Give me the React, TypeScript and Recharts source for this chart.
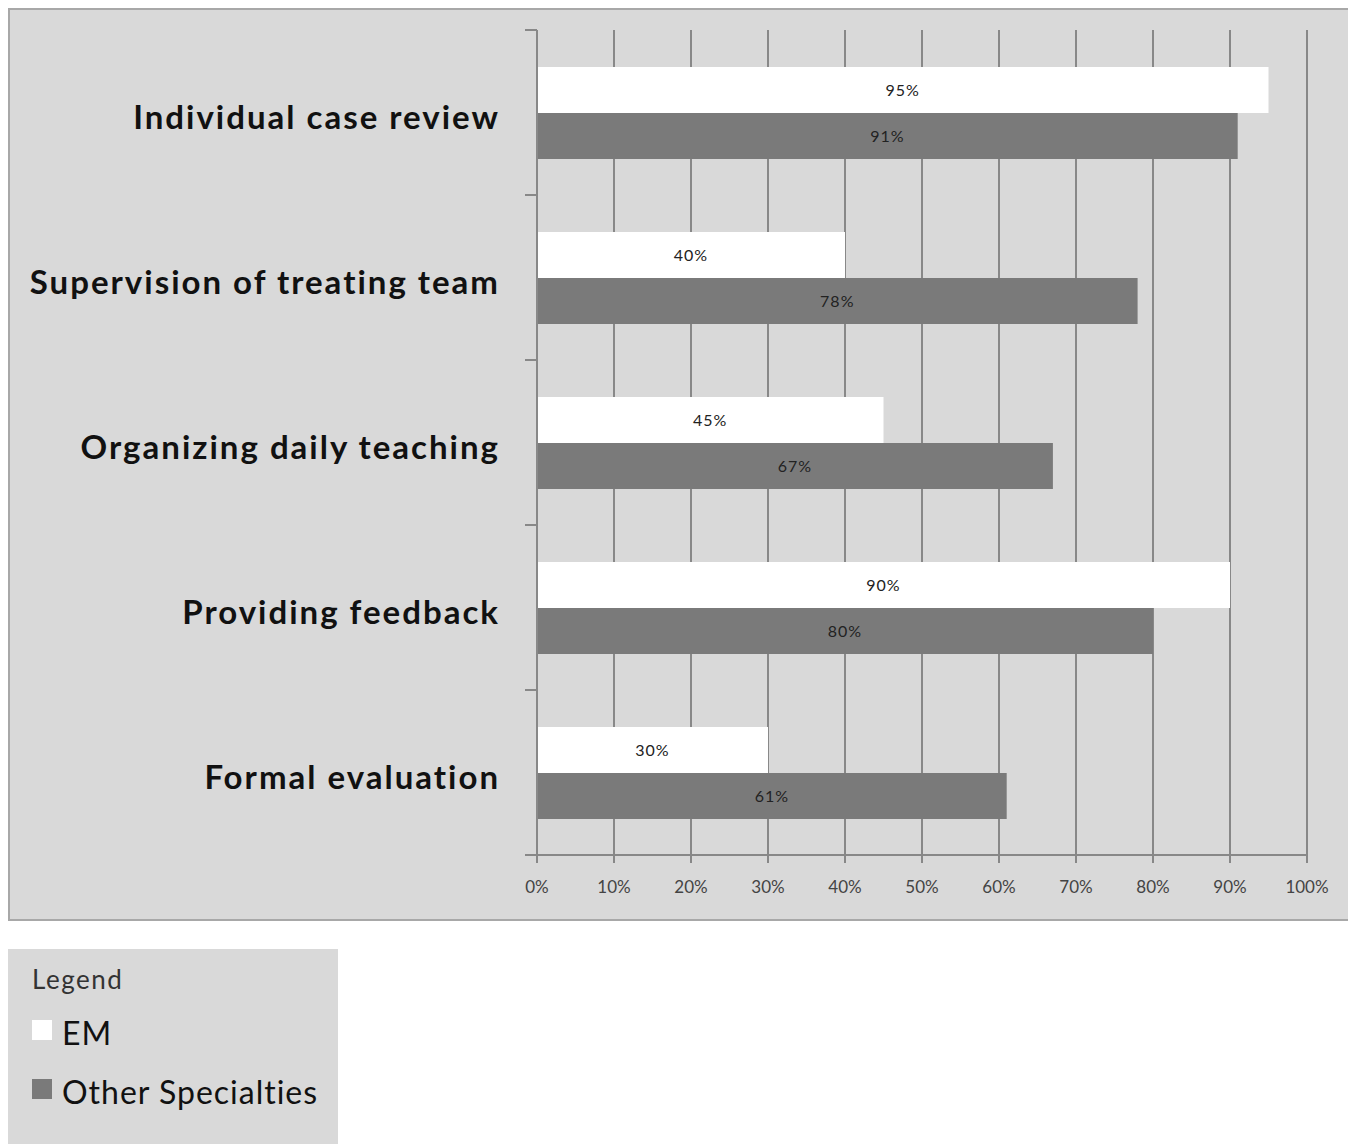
import { Bar, BarChart, CartesianGrid, LabelList, XAxis, YAxis } from 'recharts';

const categories = [
    'Individual case review',
    'Supervision of treating team',
    'Organizing daily teaching',
    'Providing feedback',
    'Formal evaluation',
];
const emValues = [95, 40, 45, 90, 30];
const otherValues = [91, 78, 67, 80, 61];
const xTicks = [0, 10, 20, 30, 40, 50, 60, 70, 80, 90, 100];

const series = [
    { key: 'em', name: 'EM', color: '#ffffff' },
    { key: 'other', name: 'Other Specialties', color: '#7a7a7a' },
];

const data = categories.map((name, i) => ({
    name,
    em: emValues[i],
    other: otherValues[i],
}));

const FONT = 'Lato, "Open Sans", sans-serif';
const PLOT_TOP = 20;
const PLOT_HEIGHT = 825;
const BAND = PLOT_HEIGHT / categories.length;

const CategoryTick = (props: any) => {
    const { x, y, payload, index } = props;
    const axisX = x + 8;
    return (
        <g>
            <line x1={axisX - 12} x2={axisX} y1={y - BAND / 2} y2={y - BAND / 2} stroke="#888" strokeWidth={2} />
            {index === categories.length - 1 && (
                <line x1={axisX - 12} x2={axisX} y1={y + BAND / 2} y2={y + BAND / 2} stroke="#888" strokeWidth={2} />
            )}
            <text
                x={axisX - 37}
                y={y + 5}
                dy="0.36em"
                textAnchor="end"
                fontFamily={FONT}
                fontWeight={700}
                fontSize={33}
                letterSpacing={2}
                fill="#111"
            >
                {payload.value}
            </text>
        </g>
    );
};

const App = () => {
    return (
        <div style={{ fontFamily: FONT }}>
            <style>{'html, body { overflow: hidden; }'}</style>
            <div
                style={{
                    width: 1345,
                    height: 913,
                    boxSizing: 'border-box',
                    background: '#d9d9d9',
                    border: '2px solid #a8a8a8',
                }}
            >
                <BarChart
                    width={1340}
                    height={909}
                    data={data}
                    layout="vertical"
                    margin={{ top: PLOT_TOP, right: 43, bottom: 0, left: 0 }}
                    barGap={0}
                    barSize={46}
                >
                    <CartesianGrid horizontal={false} stroke="#888" strokeWidth={2} />
                    <XAxis
                        type="number"
                        domain={[0, 100]}
                        ticks={xTicks}
                        interval={0}
                        tickFormatter={(v) => `${v}%`}
                        height={64}
                        tickSize={8}
                        tickMargin={18}
                        stroke="#888"
                        strokeWidth={2}
                        tick={{ fontFamily: FONT, fontSize: 17, fill: '#444' }}
                    />
                    <YAxis
                        type="category"
                        dataKey="name"
                        width={527}
                        tickLine={false}
                        stroke="#888"
                        strokeWidth={2}
                        interval={0}
                        tick={<CategoryTick />}
                    />
                    {series.map((s) => (
                        <Bar
                            key={s.key}
                            dataKey={s.key}
                            name={s.name}
                            fill={s.color}
                            isAnimationActive={false}
                        >
                            <LabelList
                                dataKey={s.key}
                                position="center"
                                formatter={(v: any) => `${v}%`}
                                style={{ fontFamily: FONT, fontSize: 16, letterSpacing: 1, fill: '#222' }}
                            />
                        </Bar>
                    ))}
                </BarChart>
            </div>
            <div
                style={{
                    marginTop: 28,
                    width: 330,
                    height: 200,
                    background: '#d9d9d9',
                    boxSizing: 'border-box',
                    paddingLeft: 24,
                    paddingTop: 14,
                    color: '#111',
                }}
            >
                <div style={{ fontSize: 26, letterSpacing: 1.5, color: '#333', height: 40 }}>Legend</div>
                {series.map((s) => (
                    <div
                        key={s.key}
                        style={{ display: 'flex', alignItems: 'center', height: 59, fontSize: 32, letterSpacing: 1 }}
                    >
                        <span
                            style={{
                                display: 'inline-block',
                                width: 20,
                                height: 20,
                                background: s.color,
                                marginRight: 10,
                                marginTop: -6,
                            }}
                        />
                        {s.name}
                    </div>
                ))}
            </div>
        </div>
    );
};

export default App;
